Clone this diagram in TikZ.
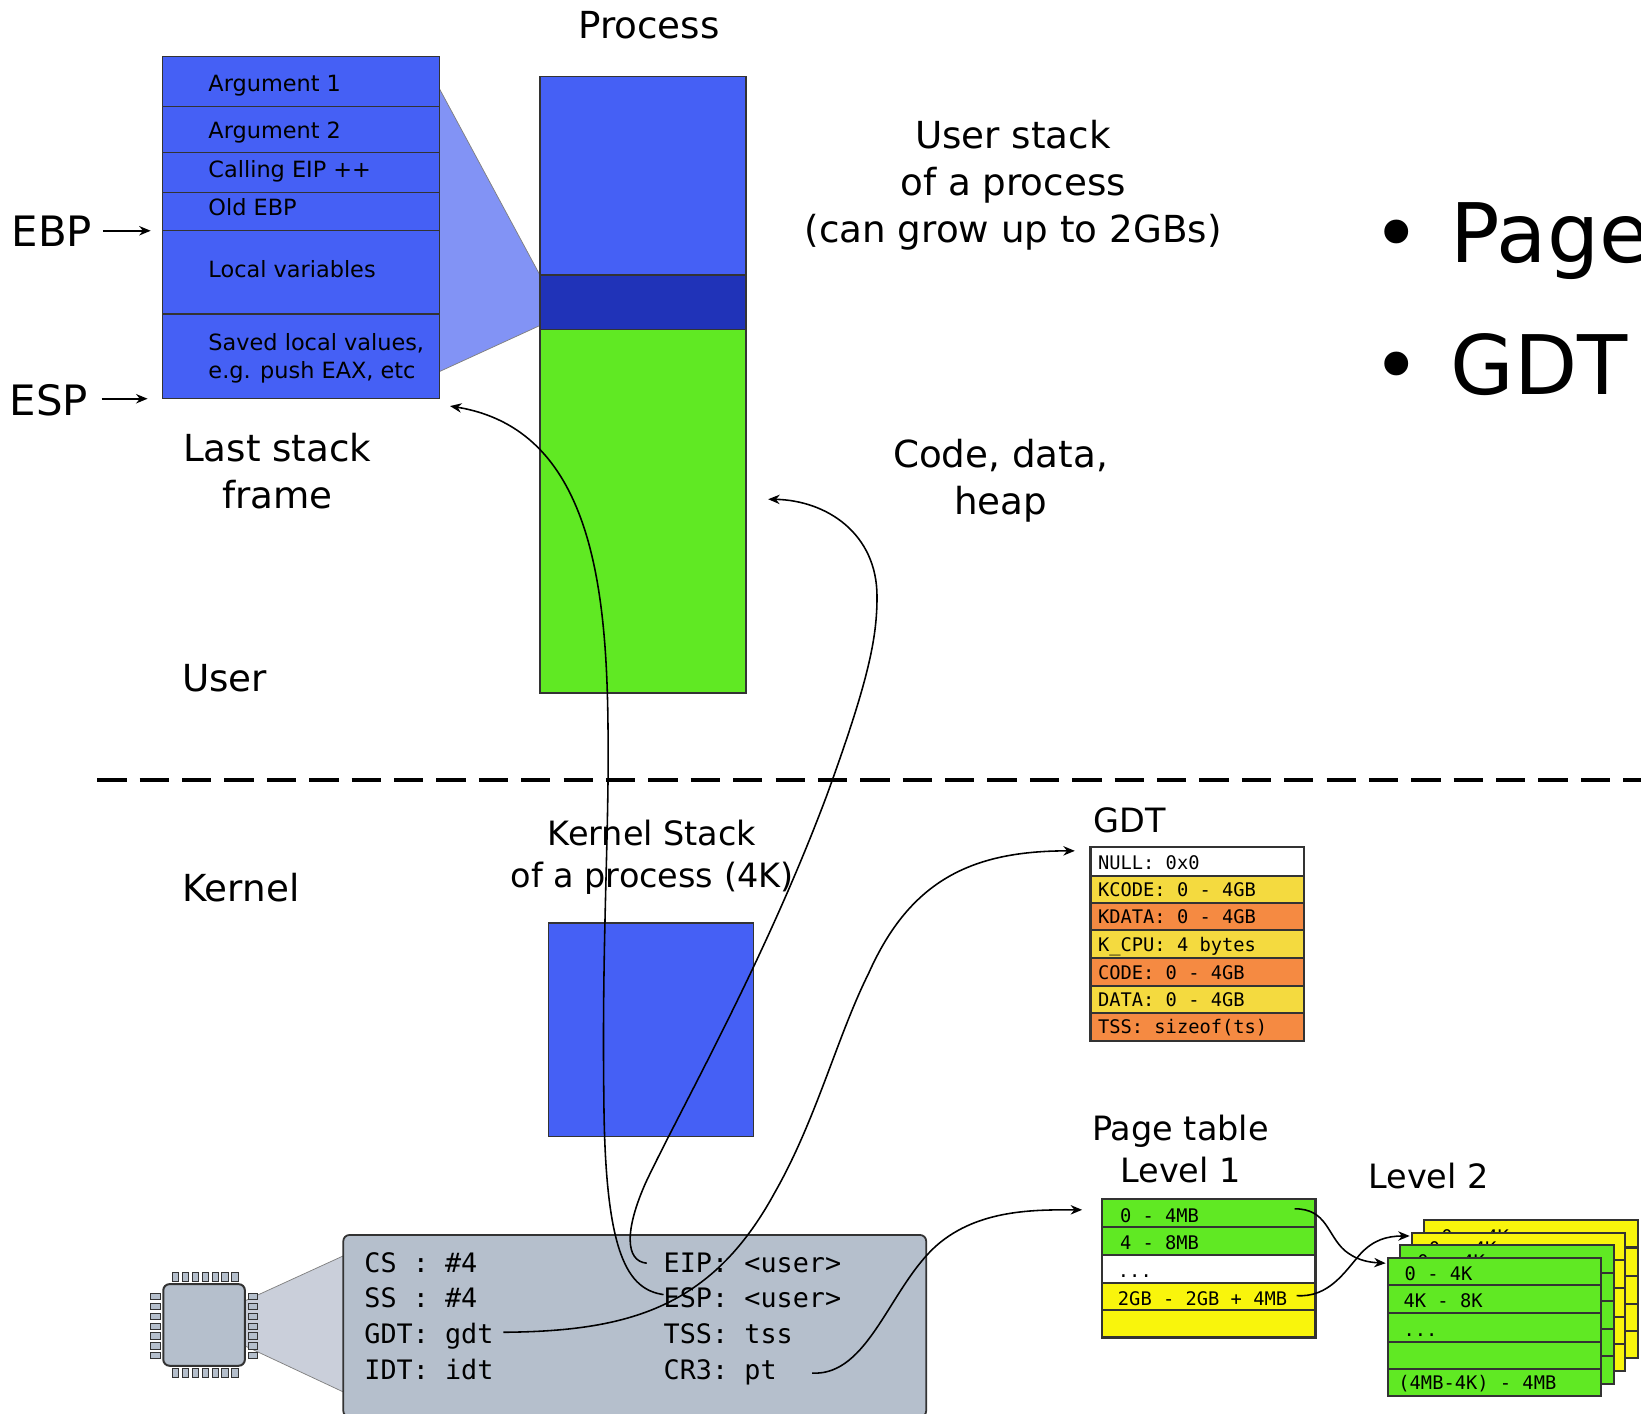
\documentclass[tikz,border=0pt]{standalone}
\usepackage{fontspec}
\setmainfont{DejaVu Sans}
\setmonofont{DejaVu Sans Mono}
\usetikzlibrary{arrows.meta}
\definecolor{bluefill}{HTML}{4560F5}
\definecolor{darkblue}{HTML}{2033B8}
\definecolor{lightblue}{HTML}{8293F5}
\definecolor{greenfill}{HTML}{60E923}
\definecolor{yellowfill}{HTML}{F9F50C}
\definecolor{gdtyellow}{HTML}{F4DA3F}
\definecolor{gdtorange}{HTML}{F58A42}
\definecolor{cpugray}{HTML}{B5BFCC}
\definecolor{cpulight}{HTML}{CACFDA}
\definecolor{edgegray}{HTML}{333333}
\newcommand\fsz[2]{\fontsize{#1}{#2}\selectfont}
\newcommand\bx[6]{\node[#6,minimum width={(#4-#2)*1pt},minimum height={(#5-#3)*1pt},inner sep=0pt,outer sep=0pt] (#1) at ({(#2+#4)/2},{(#3+#5)/2}) {};}
\newcommand\mono[4]{\node[monotext] (#1) at (#2,#3) {#4};}
\newcommand\sheet[4]{%
 \bx{#1a}{#2}{#3}{\numexpr#2+204\relax}{\numexpr#3+26\relax}{tablerow,fill=#4}
 \bx{#1b}{#2}{\numexpr#3+26\relax}{\numexpr#2+204\relax}{\numexpr#3+53\relax}{tablerow,fill=#4}
 \bx{#1c}{#2}{\numexpr#3+53\relax}{\numexpr#2+204\relax}{\numexpr#3+80\relax}{tablerow,fill=#4}
 \bx{#1d}{#2}{\numexpr#3+80\relax}{\numexpr#2+204\relax}{\numexpr#3+106\relax}{tablerow,fill=#4}
 \bx{#1e}{#2}{\numexpr#3+106\relax}{\numexpr#2+204\relax}{\numexpr#3+132\relax}{tablerow,fill=#4}
 \mono{#1ta}{\numexpr#2+16\relax}{\numexpr#3+15\relax}{0 - 4K}
 \mono{#1tb}{\numexpr#2+15\relax}{\numexpr#3+41\relax}{4K - 8K}
 \mono{#1tc}{\numexpr#2+15\relax}{\numexpr#3+68\relax}{...}
 \mono{#1te}{\numexpr#2+10\relax}{\numexpr#3+119\relax}{(4MB-4K) - 4MB}
}
\tikzset{
 x=1pt,y=-1pt,
 stackrow/.style={draw=edgegray,line width=1.2pt,fill=bluefill},
 procbox/.style={draw=edgegray,line width=1.5pt},
 tablerow/.style={draw=edgegray,line width=2pt},
 wedge/.style={draw=gray,line width=.7pt},
 rowtext/.style={anchor=west,inner sep=0pt,font=\fsz{21.4}{27},text height=18pt,text depth=2.6pt},
 monotext/.style={anchor=west,inner sep=0pt,font=\ttfamily\fsz{17.9}{22},text height=16pt,text depth=2.6pt},
 regtext/.style={anchor=west,inner sep=0pt,font=\ttfamily\fsz{25.6}{32},text height=21pt,text depth=3.6pt},
 biglabel/.style={inner sep=0pt,align=center,font=\fsz{35.6}{45}},
 medlabel/.style={inner sep=0pt,align=center,font=\fsz{32}{40}},
 reglabel/.style={inner sep=0pt,font=\fsz{40}{48}},
 hugetext/.style={anchor=west,inner sep=0pt,font=\fsz{78.5}{90},text height=62pt,text depth=4.6pt},
 conn/.style={draw=black,line width=1.5pt,-{Stealth[length=11pt,width=9pt]}},
 pin/.style={draw=edgegray,fill=cpugray,line width=.9pt},
}
\begin{document}
\begin{tikzpicture}
\useasboundingbox (0,0) rectangle (1568,1351);
% wedges
\fill[lightblue] (420,85) -- (516,263) -- (516,311) -- (420,355) -- cycle;
\draw[wedge] (420,85) -- (516,263);
\draw[wedge] (420,355) -- (516,311);
\fill[cpulight] (234,1243) -- (328,1200) -- (328,1330) -- (234,1286) -- cycle;
\draw[wedge] (234,1243) -- (328,1200);
\draw[wedge] (234,1286) -- (328,1330);
% stack frame
\bx{sa}{155}{54}{420}{101.5}{stackrow}
\bx{sb}{155}{101.5}{420}{146}{stackrow}
\bx{sc}{155}{146}{420}{184}{stackrow}
\bx{sd}{155}{184}{420}{220}{stackrow}
\bx{se}{155}{220}{420}{300}{stackrow}
\bx{sf}{155}{300}{420}{381}{stackrow}
\node[rowtext] (ta) at (199,80) {Argument 1};
\node[rowtext] (tb) at (199,125) {Argument 2};
\node[rowtext] (tc) at (199,162) {Calling EIP ++};
\node[rowtext] (td) at (199,198) {Old EBP};
\node[rowtext] (te) at (199,257) {Local variables};
\node[rowtext] (tf) at (199,327) {Saved local values,};
\node[rowtext] (tg) at (199,354) {e.g. push EAX, etc};
% registers
\node[reglabel,anchor=west] (ebp) at (11,221) {EBP};
\node[reglabel,anchor=west] (esp) at (9,382) {ESP};
\coordinate (ebpT) at (144,220.5);
\coordinate (espT) at (141,381);
\draw[conn] (ebp.east)+(10,-0.5) -- (ebpT);
\draw[conn] (esp.east)+(13,-1) -- (espT);
% process
\node[biglabel] (proc) at (620,24) {Process};
\bx{pu}{516}{73}{713}{263}{procbox,fill=bluefill}
\bx{pd}{516}{263}{713}{315}{procbox,fill=darkblue}
\bx{pg}{516}{315}{713}{662}{procbox,fill=greenfill}
\node[biglabel] (ustack) at (968,177) {User stack\\of a process\\(can grow up to 2GBs)};
\node[biglabel] (code) at (956,459) {Code, data,\\heap};
\node[biglabel] (last) at (265,450) {Last stack\\frame};
\node[biglabel,anchor=west] (user) at (174,648) {User};
\node[biglabel,anchor=west] (kern) at (174,848) {Kernel};
% big text
\node[hugetext,anchor=center] (b1) at (1335,222) {•};
\node[hugetext,anchor=center] (b2) at (1335,348) {•};
\node[hugetext] (page) at (1386,222) {Page};
\node[hugetext] (gdtbig) at (1386,348) {GDT};
% divider
\coordinate (divL) at (93,745);
\coordinate (divR) at (1568,745);
\draw[line width=4pt,dash pattern=on 28pt off 12.5pt] (divL) -- (divR);
% kernel stack
\node[medlabel] (kslabel) at (623,819) {Kernel Stack\\of a process (4K)};
\bx{ks}{524}{882}{720}{1086}{procbox,fill=bluefill}
% GDT
\node[medlabel,anchor=west] (gdtlabel) at (1045,784) {GDT};
\bx{g0}{1042}{809}{1246}{837}{tablerow,fill=white}
\bx{g1}{1042}{837}{1246}{863}{tablerow,fill=gdtyellow}
\bx{g2}{1042}{863}{1246}{889}{tablerow,fill=gdtorange}
\bx{g3}{1042}{889}{1246}{915}{tablerow,fill=gdtyellow}
\bx{g4}{1042}{915}{1246}{942}{tablerow,fill=gdtorange}
\bx{g5}{1042}{942}{1246}{968}{tablerow,fill=gdtyellow}
\bx{g6}{1042}{968}{1246}{995}{tablerow,fill=gdtorange}
\mono{gt0}{1049}{824}{NULL: 0x0}
\mono{gt1}{1049}{850}{KCODE: 0 - 4GB}
\mono{gt2}{1049}{876}{KDATA: 0 - 4GB}
\mono{gt3}{1049}{902}{K\_CPU: 4 bytes}
\mono{gt4}{1049}{929}{CODE: 0 - 4GB}
\mono{gt5}{1049}{955}{DATA: 0 - 4GB}
\mono{gt6}{1049}{981}{TSS: sizeof(ts)}
% page table level 1
\node[medlabel] (ptlabel) at (1128,1098) {Page table\\Level 1};
\bx{l0}{1053}{1146}{1257}{1172}{tablerow,fill=greenfill}
\bx{l1}{1053}{1172}{1257}{1199}{tablerow,fill=greenfill}
\bx{l2}{1053}{1199}{1257}{1226}{tablerow,fill=white}
\bx{l3}{1053}{1226}{1257}{1252}{tablerow,fill=yellowfill}
\bx{l4}{1053}{1252}{1257}{1278}{tablerow,fill=yellowfill}
\mono{lt0}{1070}{1161}{0 - 4MB}
\mono{lt1}{1070}{1187}{4 - 8MB}
\mono{lt2}{1068}{1214}{...}
\mono{lt3}{1068}{1241}{2GB - 2GB + 4MB}
% level 2
\node[medlabel] (l2label) at (1365,1124) {Level 2};
\sheet{w}{1361}{1166}{yellowfill}
\sheet{x}{1349}{1178}{yellowfill}
\sheet{y}{1338}{1190}{greenfill}
\sheet{z}{1326}{1202}{greenfill}
% chip
\foreach \i in {0,...,6}{
 \path[pin] ({165+9.4*\i},1216) rectangle ++(6,8);
 \path[pin] ({165+9.4*\i},1308) rectangle ++(6,8);
 \path[pin] (144,{1236+9.4*\i}) rectangle ++(9,6);
 \path[pin] (237,{1236+9.4*\i}) rectangle ++(9,6);
}
\bx{chip}{156}{1227}{234}{1305}{draw=edgegray,line width=1.9pt,fill=cpugray,rounded corners=6pt}
% register panel
\bx{regs}{328}{1180}{885}{1354}{draw=edgegray,line width=1.7pt,fill=cpugray,rounded corners=6pt}
\node[regtext] (cs) at (348,1207) {CS : \#4};
\node[regtext] (ss) at (348,1241) {SS : \#4};
\node[regtext] (gd) at (348,1275) {GDT: gdt};
\node[regtext] (id) at (348,1309) {IDT: idt};
\node[regtext] (ei) at (634,1207) {EIP: <user>};
\node[regtext] (es) at (634,1241) {ESP: <user>};
\node[regtext] (ts) at (634,1275) {TSS: tss};
\node[regtext] (cr) at (634,1309) {CR3: pt};
% connectors
\coordinate (espS) at (634,1237);
\coordinate (espE) at (430,388);
\coordinate (eipS) at (618,1207);
\coordinate (eipE) at (734,477);
\coordinate (gdtS) at (481,1273);
\coordinate (gdtE) at (1027,813);
\coordinate (ptS) at (776,1312);
\coordinate (ptE) at (1034,1156);
\coordinate (aS) at (1237,1155);
\coordinate (aE) at (1324,1207);
\coordinate (bS) at (1239,1238);
\coordinate (bE) at (1347,1181);
\draw[conn] (espS) .. controls (600,1232) and (578,1200) .. (577,1050) .. controls (575,900) and (582,800) .. (581,700) .. controls (580,560) and (565,410) .. (espE);
\draw[conn] (eipS) .. controls (597,1205) and (597,1175) .. (617,1130) .. controls (650,1060) and (730,920) .. (790,760) .. controls (830,650) and (838,610) .. (838,570) .. controls (838,510) and (790,478) .. (eipE);
\draw[conn] (gdtS) .. controls (600,1272) and (680,1250) .. (740,1140) .. controls (780,1070) and (800,990) .. (830,930) .. controls (870,840) and (930,813) .. (gdtE);
\draw[conn] (ptS) .. controls (830,1315) and (850,1230) .. (895,1190) .. controls (935,1155) and (990,1156) .. (ptE);
\draw[conn] (aS) .. controls (1268,1155) and (1268,1180) .. (1285,1195) .. controls (1295,1203) and (1305,1206) .. (aE);
\draw[conn] (bS) .. controls (1270,1240) and (1285,1215) .. (1300,1198) .. controls (1312,1185) and (1325,1181) .. (bE);
\end{tikzpicture}
\end{document}
